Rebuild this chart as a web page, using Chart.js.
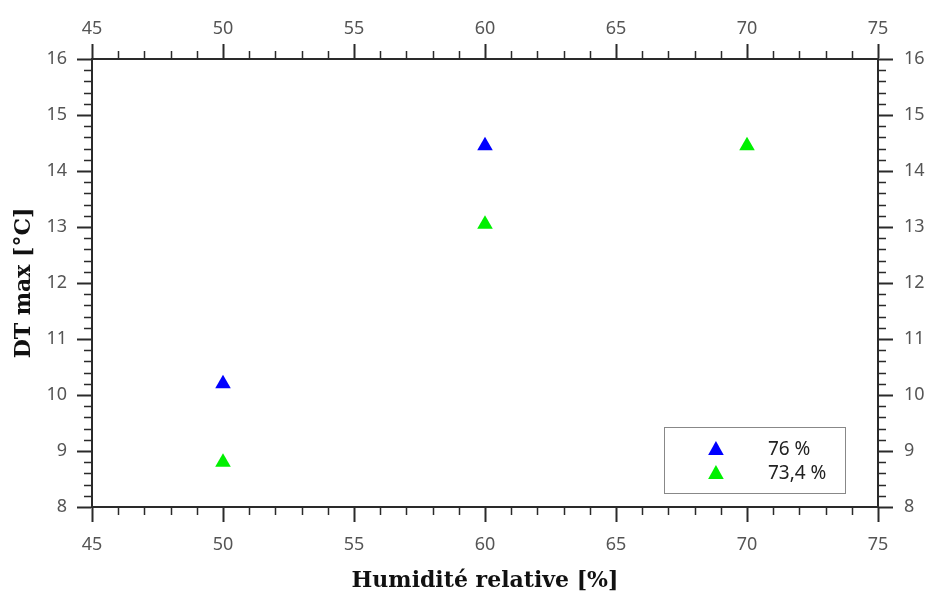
<!DOCTYPE html>
<html>
<head>
<meta charset="utf-8">
<script src="https://cdn.jsdelivr.net/npm/chart.js@4/dist/chart.umd.min.js"></script>
<style>
html,body{margin:0;padding:0;background:#fff;}
#wrap{width:927px;height:595px;}
</style>
</head>
<body>
<div id="wrap"><canvas id="c" width="927" height="595"></canvas></div>
<script>
const seriesLabels = ['76 %', '73,4 %'];
const seriesColors = ['#0000ff', '#00f000'];
const humidity76 = [50, 60];
const dtmax76 = [10.2, 14.45];
const humidity734 = [50, 60, 70];
const dtmax734 = [8.8, 13.05, 14.45];
const xTicks = [45, 50, 55, 60, 65, 70, 75];
const yTicks = [8, 9, 10, 11, 12, 13, 14, 15, 16];
const xTitle = 'Humidité relative [%]';
const yTitle = 'DT max [°C]';

const toPts = (xs, ys) => xs.map((x, i) => ({x: x, y: ys[i]}));

const axisColor = '#2a2a2a';
const tickLabelColor = '#555';
const tickFont = {family: 'Noto Sans', size: 18};
const titleFont = {family: 'DejaVu Serif', size: 22, weight: 'bold'};

function xAxis(pos, showTitle, pad, size) {
  return {
    type: 'linear', position: pos, min: xTicks[0], max: xTicks[xTicks.length - 1],
    afterBuildTicks: s => { s.ticks = xTicks.map(v => ({value: v})); },
    afterFit: s => { s.height = size; },
    ticks: {color: tickLabelColor, font: tickFont, padding: pad, maxRotation: 0},
    grid: {display: true, drawOnChartArea: false, drawTicks: true, tickLength: 15, tickColor: axisColor, tickWidth: 2},
    border: {display: true, color: axisColor, width: 2},
    title: {display: showTitle, text: xTitle, color: '#111', font: titleFont, padding: {top: 0, bottom: 1}}
  };
}
function yAxis(pos, showTitle, pad, size) {
  return {
    type: 'linear', position: pos, min: yTicks[0], max: yTicks[yTicks.length - 1],
    afterBuildTicks: s => { s.ticks = yTicks.map(v => ({value: v})); },
    afterFit: s => { s.width = size; },
    ticks: {color: tickLabelColor, font: tickFont, padding: pad},
    grid: {display: true, drawOnChartArea: false, drawTicks: true, tickLength: 15, tickColor: axisColor, tickWidth: 2},
    border: {display: true, color: axisColor, width: 2},
    title: {display: showTitle, text: yTitle, color: '#111', font: titleFont, padding: {top: 11, bottom: 0}}
  };
}

const minorTicks = {
  id: 'minorTicks',
  afterDraw(chart) {
    const ctx = chart.ctx;
    const a = chart.chartArea;
    ctx.save();
    ctx.strokeStyle = axisColor;
    ctx.lineWidth = 1.5;
    const xs = chart.scales.x;
    for (let v = xs.min; v <= xs.max + 1e-9; v += 1) {
      if (Math.abs(v % 5) < 1e-9) continue;
      const px = Math.round(xs.getPixelForValue(v)) + 0.5;
      ctx.beginPath();
      ctx.moveTo(px, a.bottom); ctx.lineTo(px, a.bottom + 8);
      ctx.moveTo(px, a.top); ctx.lineTo(px, a.top - 8);
      ctx.stroke();
    }
    const ys = chart.scales.y;
    for (let k = 0; k <= (ys.max - ys.min) * 5 + 1e-6; k++) {
      if (k % 5 === 0) continue;
      const v = ys.min + k * 0.2;
      const py = Math.round(ys.getPixelForValue(v)) + 0.5;
      ctx.beginPath();
      ctx.moveTo(a.left, py); ctx.lineTo(a.left - 8, py);
      ctx.moveTo(a.right, py); ctx.lineTo(a.right + 8, py);
      ctx.stroke();
    }
    ctx.restore();
  }
};

const boxLegend = {
  id: 'boxLegend',
  afterDraw(chart) {
    const ctx = chart.ctx;
    const xs = chart.scales.x, ys = chart.scales.y;
    const left = xs.getPixelForValue(66.83), right = xs.getPixelForValue(73.74);
    const top = ys.getPixelForValue(9.43), bottom = ys.getPixelForValue(8.25);
    ctx.save();
    ctx.fillStyle = '#fff';
    ctx.fillRect(left, top, right - left, bottom - top);
    ctx.strokeStyle = '#888';
    ctx.lineWidth = 1;
    ctx.strokeRect(Math.round(left) + 0.5, Math.round(top) + 0.5, Math.round(right - left), Math.round(bottom - top));
    chart.data.datasets.forEach((ds, i) => {
      const cy = top + 23 + i * 24;
      const cx = left + 52;
      const r = 9;
      ctx.fillStyle = ds.backgroundColor;
      ctx.beginPath();
      ctx.moveTo(cx, cy - r);
      ctx.lineTo(cx + r * Math.sin(Math.PI / 3), cy + r * 0.5 + 0.5);
      ctx.lineTo(cx - r * Math.sin(Math.PI / 3), cy + r * 0.5 + 0.5);
      ctx.closePath();
      ctx.fill();
      ctx.fillStyle = '#222';
      ctx.font = '19px "Noto Sans"';
      ctx.textBaseline = 'middle';
      ctx.textAlign = 'left';
      ctx.fillText(ds.label, left + 104, cy);
    });
    ctx.restore();
  }
};

new Chart(document.getElementById('c'), {
  type: 'scatter',
  data: {
    datasets: [
      {label: seriesLabels[0], data: toPts(humidity76, dtmax76), backgroundColor: seriesColors[0], borderColor: seriesColors[0],
       pointStyle: 'triangle', pointRadius: 9, pointHoverRadius: 9, borderWidth: 0},
      {label: seriesLabels[1], data: toPts(humidity734, dtmax734), backgroundColor: seriesColors[1], borderColor: seriesColors[1],
       pointStyle: 'triangle', pointRadius: 9, pointHoverRadius: 9, borderWidth: 0}
    ]
  },
  options: {
    responsive: false, animation: false,
    layout: {padding: 0},
    plugins: {legend: {display: false}, tooltip: {enabled: false}},
    scales: {
      x: xAxis('bottom', true, 12, 88),
      x2: xAxis('top', false, 4, 59),
      y: yAxis('left', true, 10, 92),
      y2: yAxis('right', false, 11, 49)
    }
  },
  plugins: [minorTicks, boxLegend]
});
</script>
</body>
</html>
